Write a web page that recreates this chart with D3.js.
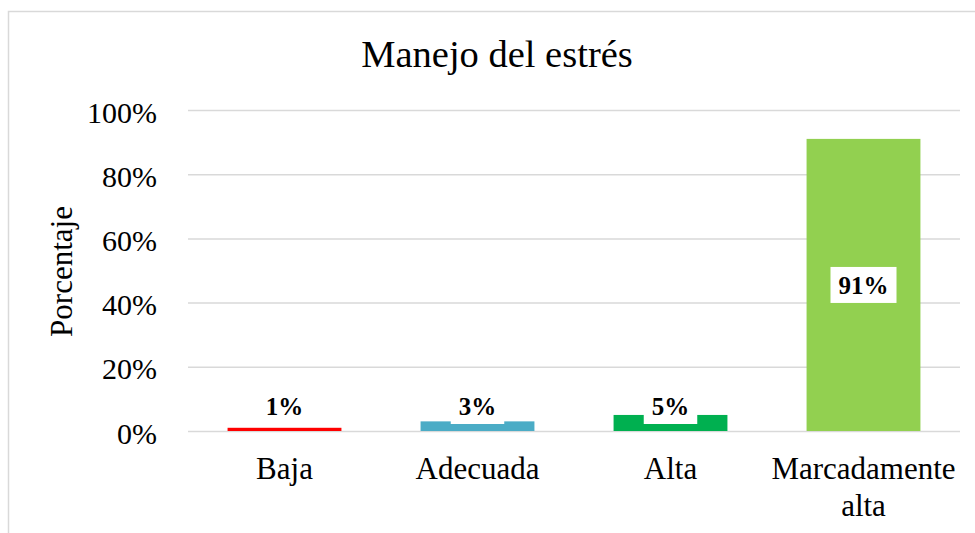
<!DOCTYPE html>
<html>
<head>
<meta charset="utf-8">
<script src="https://cdn.jsdelivr.net/npm/d3@7"></script>
<style>
  body { margin: 0; background: #fff; }
  text { font-family: "Liberation Serif", "Times New Roman", serif; }
</style>
</head>
<body>
<div id="chart"></div>
<script>
// data
const categories = ['Baja', 'Adecuada', 'Alta', 'Marcadamente alta'];
const values = [0.01, 0.03, 0.05, 0.91];
const barColors = ['#FF0000', '#4BACC6', '#00B050', '#92D050'];
const yTicks = [0, 0.2, 0.4, 0.6, 0.8, 1];
const titleText = 'Manejo del estrés';
const yTitle = 'Porcentaje';

const sWidth = 975, sHeight = 533;
const plot = { left: 188, right: 960, top: 110, bottom: 431 };

const svg = d3.select('#chart').append('svg')
  .attr('width', sWidth)
  .attr('height', sHeight);

svg.append('rect')
  .attr('width', sWidth).attr('height', sHeight)
  .attr('fill', '#fff');

// chart area border (runs off right and bottom)
svg.append('rect')
  .attr('x', 8.5).attr('y', 11.5)
  .attr('width', 1000).attr('height', 600)
  .attr('fill', 'none')
  .attr('stroke', '#d9d9d9')
  .attr('stroke-width', 1.5);

const x = d3.scaleBand()
  .domain(categories)
  .range([plot.left, plot.right])
  .paddingInner(0.41)
  .paddingOuter(0.205);

const y = d3.scaleLinear()
  .domain([0, 1])
  .range([plot.bottom, plot.top]);

// gridlines
const grid = svg.append('g')
  .attr('transform', 'translate(' + plot.left + ',0)')
  .call(d3.axisLeft(y).tickValues(yTicks).tickSize(-(plot.right - plot.left)).tickFormat(''));
grid.select('.domain').remove();
grid.selectAll('line').attr('stroke', '#d9d9d9').attr('stroke-width', 1.5);

// y tick labels
const yAxis = svg.append('g')
  .attr('transform', 'translate(' + plot.left + ',0)')
  .call(d3.axisLeft(y).tickValues(yTicks).tickSize(0).tickPadding(31).tickFormat(d3.format('.0%')));
yAxis.select('.domain').remove();
yAxis.selectAll('text')
  .attr('dy', '0.4em')
  .style('font-family', '"Liberation Serif", serif')
  .style('font-size', '30px')
  .attr('fill', '#000');

// bars
svg.append('g').selectAll('rect')
  .data(values)
  .join('rect')
    .attr('x', (d, i) => x(categories[i]))
    .attr('y', d => y(d))
    .attr('width', x.bandwidth())
    .attr('height', d => y(0) - y(d))
    .attr('fill', (d, i) => barColors[i]);

// category labels
const xl = svg.append('g');
categories.forEach((c, i) => {
  const lines = c === 'Marcadamente alta' ? ['Marcadamente', 'alta'] : [c];
  const t = xl.append('text')
    .attr('x', x(c) + x.bandwidth() / 2)
    .attr('y', 479)
    .attr('text-anchor', 'middle')
    .style('font-size', '31px')
    .attr('fill', '#000');
  lines.forEach((l, j) => {
    t.append('tspan')
      .attr('x', x(c) + x.bandwidth() / 2)
      .attr('dy', j === 0 ? 0 : 37)
      .text(l);
  });
});

// data labels with white boxes
const labels = svg.append('g');
values.forEach((v, i) => {
  const cx = x(categories[i]) + x.bandwidth() / 2;
  // big bar: centred; small bars: sit near the base
  const base = v > 0.5 ? (y(v) + y(0)) / 2 + 9 : y(0) - 16;
  const g = labels.append('g');
  const box = g.append('rect').attr('fill', '#fff');
  const t = g.append('text')
    .attr('x', cx)
    .attr('y', base)
    .attr('text-anchor', 'middle')
    .style('font-size', '25px')
    .style('font-weight', 'bold')
    .attr('fill', '#000')
    .text(d3.format('.0%')(v));
  const w = t.node().getComputedTextLength() + 16;
  box.attr('x', cx - w / 2).attr('y', base - 27)
    .attr('width', w).attr('height', 36);
});

// title
svg.append('text')
  .attr('x', 497)
  .attr('y', 67)
  .attr('text-anchor', 'middle')
  .style('font-size', '38.5px')
  .attr('fill', '#000')
  .text(titleText);

// y axis title
svg.append('text')
  .attr('transform', 'translate(72,' + ((plot.top + plot.bottom) / 2 + 1) + ') rotate(-90)')
  .attr('text-anchor', 'middle')
  .style('font-size', '31px')
  .attr('fill', '#000')
  .text(yTitle);
</script>
</body>
</html>
